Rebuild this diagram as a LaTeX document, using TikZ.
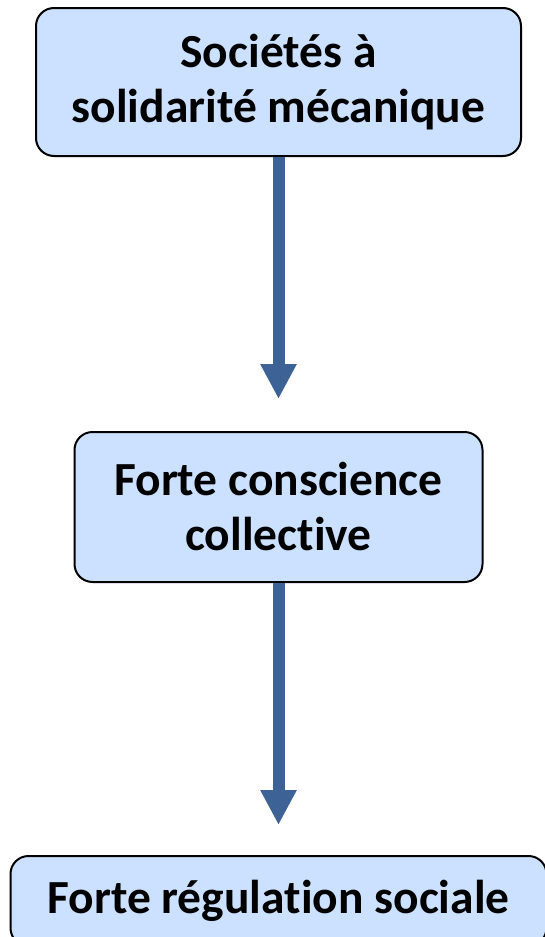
\documentclass[tikz,border=0pt]{standalone}
\usepackage{fontspec}
\setmainfont{Carlito}[Ligatures=NoCommon]
\usepackage{xcolor}
\usepackage{tikz}
\usetikzlibrary{arrows.meta,positioning}
\definecolor{boxfill}{RGB}{204,224,255}
\definecolor{arrblue}{RGB}{61,99,150}

\begin{document}
\begin{tikzpicture}[
  box/.style={draw, line width=2pt, rounded corners=18pt, fill=boxfill,
    align=center, inner sep=0pt,
    font=\fontsize{47.5pt}{55pt}\selectfont\bfseries},
  arr/.style={-{Triangle[width=34pt,length=35pt]}, line width=12pt, arrblue},
]
\useasboundingbox (0,0) rectangle (544pt,-937pt);
\node[box, minimum width=485pt, minimum height=148pt] (meca) at (278.5pt,-82pt)
  {Sociétés à\\solidarité mécanique};
\node[box, minimum width=408pt, minimum height=150pt, below=274pt of meca] (consc)
  {Forte conscience\\collective};
\node[box, minimum width=536pt, minimum height=90pt, below=272pt of consc] (regul)
  {Forte régulation sociale};
\draw[arr, shorten >=32pt] (meca) -- (consc);
\draw[arr, shorten >=30pt] (consc) -- (regul);
\end{tikzpicture}
\end{document}
